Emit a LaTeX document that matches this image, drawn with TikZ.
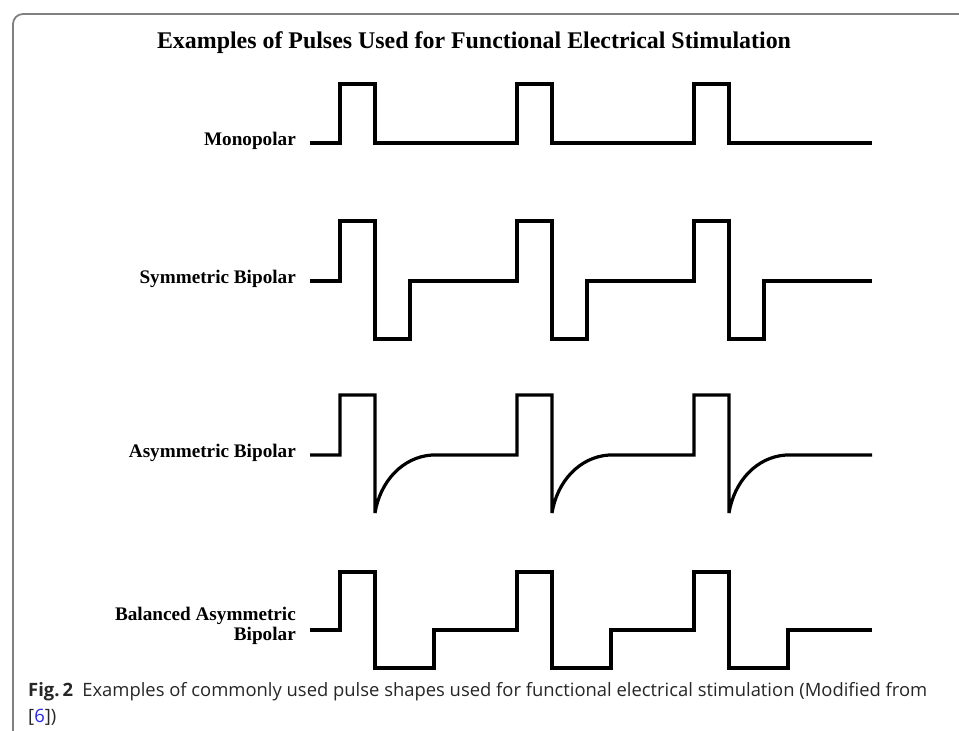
\documentclass[tikz,border=0pt]{standalone}
\usepackage{fontspec}
\setmainfont{Liberation Serif}
\newfontfamily\capfont{Open Sans}
\definecolor{framegray}{RGB}{128,128,128}
\definecolor{refblue}{RGB}{40,40,230}
\tikzset{
  wave/.style={line width=3.2pt, black},
  wavelabel/.style={anchor=east, font=\bfseries\fontsize{19.2}{20}\selectfont, align=right, inner sep=0pt},
}
\begin{document}
\begin{tikzpicture}[x=1pt, y=-1pt]
    \useasboundingbox (0,0) rectangle (959,731);
    % frame
    \draw[framegray, line width=1.8pt, rounded corners=10pt] (962,14) -- (13,14) -- (13,734);
    % title
    \node[font=\bfseries\fontsize{23.9}{24}\selectfont] (title) at (474,43) {Examples of Pulses Used for Functional Electrical Stimulation};

    % labels
    \node[wavelabel] (lmono)  at (296,141) {Monopolar};
    \node[wavelabel] (lsym)   at (296,279) {Symmetric Bipolar};
    \node[wavelabel] (lasym)  at (296,453) {Asymmetric Bipolar};
    \node[wavelabel] (lbal)   at (296,626) {Balanced Asymmetric\\Bipolar};

    % monopolar
    \draw[wave] (310,143) \foreach \p in {340,517,694} {
        -- (\p,143) -- (\p,84) -- (\p+35,84) -- (\p+35,143)
      } -- (872,143);
    % symmetric bipolar
    \draw[wave] (310,281) \foreach \p in {340,517,694} {
        -- (\p,281) -- (\p,221) -- (\p+35,221) -- (\p+35,339) -- (\p+70,339) -- (\p+70,281)
      } -- (872,281);
    % asymmetric bipolar
    \draw[wave] (310,455) \foreach \p in {340,517,694} {
        -- (\p,455) -- (\p,395) -- (\p+35,395) -- (\p+35,513)
        .. controls (\p+40,482) and (\p+62,457) .. (\p+92,455)
      } -- (872,455);
    % balanced asymmetric bipolar
    \draw[wave] (310,630) \foreach \p in {340,517,694} {
        -- (\p,630) -- (\p,572) -- (\p+35,572) -- (\p+35,668) -- (\p+94,668) -- (\p+94,630)
      } -- (872,630);

    % caption
    \node[anchor=west, inner sep=0pt, font=\capfont\fontsize{18.4}{19}\selectfont, text=black!85] (cap1) at (28,692)
      {\textbf{Fig.\,2}\enspace Examples of commonly used pulse shapes used for functional electrical stimulation (Modified from};
    \node[anchor=west, inner sep=0pt, font=\capfont\fontsize{18.4}{19}\selectfont, text=black!85] (cap2) at (28,717)
      {[\textcolor{refblue}{6}])};
\end{tikzpicture}
\end{document}
